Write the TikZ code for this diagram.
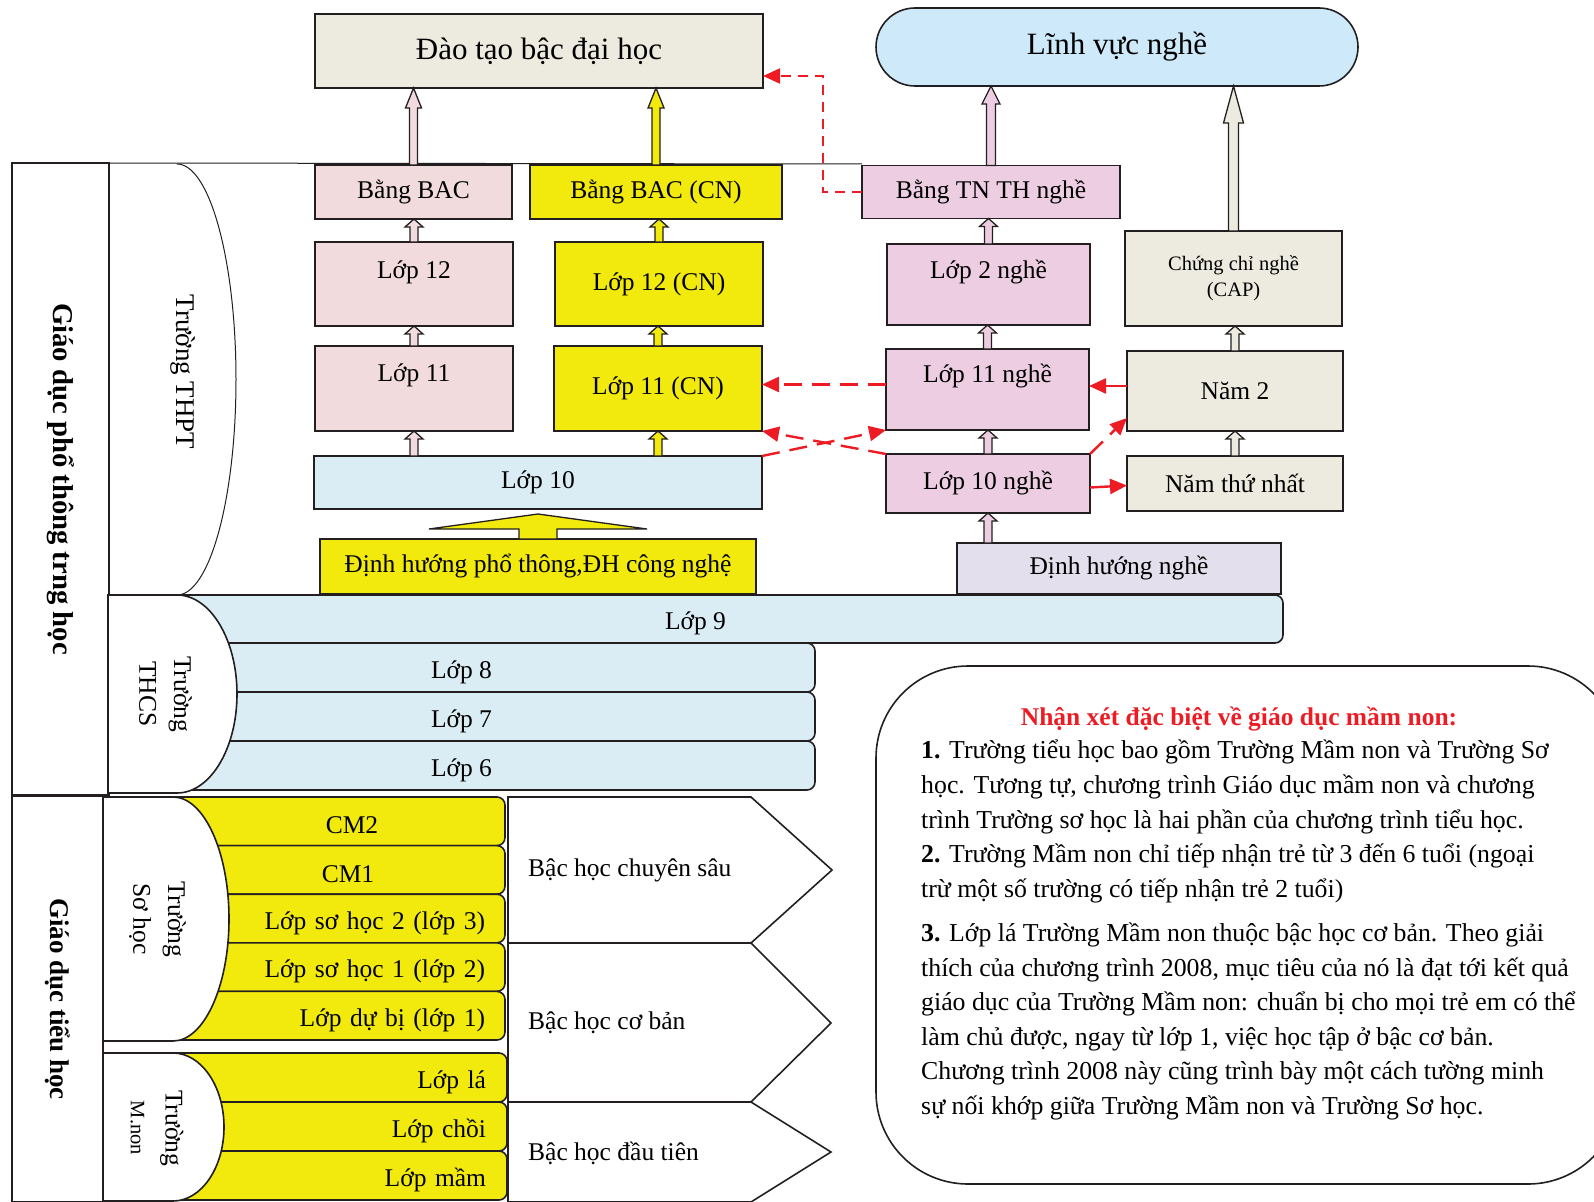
\documentclass[tikz,border=0pt]{standalone}
\usepackage{fontspec}
\setmainfont{Liberation Serif}
\usetikzlibrary{positioning,calc,arrows.meta,shapes.misc}

\definecolor{inkc}{RGB}{35,31,32}
\definecolor{beigec}{RGB}{237,234,224}
\definecolor{skyc}{RGB}{206,234,250}
\definecolor{rosec}{RGB}{242,219,221}
\definecolor{yellowc}{RGB}{242,234,13}
\definecolor{lilacc}{RGB}{236,205,225}
\definecolor{icec}{RGB}{219,237,244}
\definecolor{lavc}{RGB}{228,223,236}
\definecolor{redc}{RGB}{237,28,36}

\newcommand{\fsbig}{\fontsize{31}{36}\selectfont}
\newcommand{\fssmall}{\fontsize{20.5}{26}\selectfont}
\newcommand{\fsbold}{\fontsize{27}{32}\selectfont\bfseries}

% block arrow pointing up: fill, from, to, half shaft, half head, head length
\newcommand{\blockup}[6]{%
  \draw[blk, fill=#1] let \p1=#2, \p2=#3 in
    (\x1-#4,\y1) -- (\x1-#4,\y2-#6) -- (\x1-#5,\y2-#6) -- (\x1,\y2)
    -- (\x1+#5,\y2-#6) -- (\x1+#4,\y2-#6) -- (\x1+#4,\y1) -- cycle;}
\newcommand{\smallup}[3]{\blockup{#1}{#2}{#3}{4pt}{9pt}{8pt}}

\begin{document}
\fontsize{25.5}{34.6}\selectfont
\begin{tikzpicture}[x=1pt, y=-1pt,
  box/.style={draw=inkc, line width=1.6pt, inner sep=0pt, outer sep=0pt, align=center},
  frame/.style={draw=inkc, line width=1.6pt},
  hair/.style={draw=inkc, line width=1pt},
  blk/.style={draw=inkc, line width=1.3pt, line join=miter},
  icebar/.style={box, fill=icec, rounded corners=8pt, minimum height=49pt, text height=27pt, text depth=5.6pt},
  ybar/.style={box, fill=yellowc, rounded corners=8pt, text width=362pt, align=right, text height=27pt, text depth=5.6pt},
  vtext/.style={rotate=-90, align=center, inner sep=0pt},
  redtip/.style={-{Triangle[length=17pt,width=15pt]}},
  reddash/.style={draw=redc, line width=2.4pt, dash pattern=on 18pt off 10pt, redtip},
  redline/.style={draw=redc, line width=2.4pt, redtip}]

\useasboundingbox (0,0) rectangle (1594,1201);

% note on the right
\node[box, rounded corners=92pt, minimum width=744pt, minimum height=518pt] (note) at (1248,925) {};
\node[font=\bfseries, text=redc] (notetitle) at (1239,719) {Nhận xét đặc biệt về giáo dục mầm non:};
\node[align=left, anchor=north west, inner sep=0pt, font=\fontsize{25.8}{34.6}\selectfont] (notebody) at (921,740) {%
\textbf{1.} Trường tiểu học bao gồm Trường Mầm non và Trường Sơ\\
học. Tương tự, chương trình Giáo dục mầm non và chương\\
trình Trường sơ học là hai phần của chương trình tiểu học.\\
\textbf{2.} Trường Mầm non chỉ tiếp nhận trẻ từ 3 đến 6 tuổi (ngoại\\
trừ một số trường có tiếp nhận trẻ 2 tuổi)\\[9.5pt]
\textbf{3.} Lớp lá Trường Mầm non thuộc bậc học cơ bản. Theo giải\\
thích của chương trình 2008, mục tiêu của nó là đạt tới kết quả\\
giáo dục của Trường Mầm non: chuẩn bị cho mọi trẻ em có thể\\
làm chủ được, ngay từ lớp 1, việc học tập ở bậc cơ bản.\\
Chương trình 2008 này cũng trình bày một cách tường minh\\
sự nối khớp giữa Trường Mầm non và Trường Sơ học.};

% left columns
\node[box, minimum width=97pt, minimum height=632pt] (gdpt) at (60.5,479) {};
\node[vtext, font=\fontsize{28.7}{32}\selectfont\bfseries] (gdpttext) at (gdpt.center) {Giáo dục phổ thông trng học};
\node[box, minimum width=91pt, minimum height=406pt] (gdth) at (57.5,999) {};
\node[vtext, font=\fsbold] (gdthtext) at (gdth.center) {Giáo dục tiểu học};

% THCS bars
\node[icebar, minimum width=1175pt, minimum height=48pt, anchor=north west] (lop9) at (108,595) {Lớp 9};
\node[icebar, minimum width=707pt, below=0pt of lop9.south west, anchor=north west] (lop8) {Lớp 8};
\node[icebar, minimum width=707pt, below=0pt of lop8.south west, anchor=north west] (lop7) {Lớp 7};
\node[icebar, minimum width=707pt, below=0pt of lop7.south west, anchor=north west] (lop6) {Lớp 6};

% primary bars
\node[ybar, minimum width=402pt, minimum height=48.6pt, anchor=north west,
  label={[xshift=48pt, yshift=-4pt]center:CM2}] (cm2) at (103,797) {};
\node[ybar, minimum width=402pt, minimum height=48.6pt, below=0pt of cm2.south west, anchor=north west,
  label={[xshift=44pt, yshift=-4pt]center:CM1}] (cm1) {};
\node[ybar, minimum width=402pt, minimum height=48.6pt, below=0pt of cm1.south west, anchor=north west] (sh2) {Lớp sơ học 2 (lớp 3)};
\node[ybar, minimum width=402pt, minimum height=48.6pt, below=0pt of sh2.south west, anchor=north west] (sh1) {Lớp sơ học 1 (lớp 2)};
\node[ybar, minimum width=402pt, minimum height=48.6pt, below=0pt of sh1.south west, anchor=north west] (dubi) {Lớp dự bị (lớp 1)};
\node[ybar, minimum width=404pt, minimum height=49pt, anchor=north west] (la) at (103,1053) {Lớp lá};
\node[ybar, minimum width=404pt, minimum height=49pt, below=0pt of la.south west, anchor=north west] (choi) {Lớp chồi};
\node[ybar, minimum width=404pt, minimum height=49pt, below=0pt of choi.south west, anchor=north west] (mam) {Lớp mầm};

% school columns
\draw[hair] (gdpt.north east) -- (862,164);
\draw[hair] (177,164) arc[start angle=90, end angle=-90, x radius=59pt, y radius=215.5pt];
\draw[frame, fill=white] (108,595) -- (177,595) arc[start angle=90, end angle=-90, x radius=60pt, y radius=99pt] -- (108,793) -- cycle;
\draw[frame, fill=white] (103,797) -- (173,797) arc[start angle=90, end angle=-90, x radius=56pt, y radius=122pt] -- (103,1041) -- cycle;
\draw[frame, fill=white] (103,1053) -- (173,1053) arc[start angle=90, end angle=-90, x radius=51pt, y radius=74pt] -- (103,1201) -- cycle;
\node[vtext] (thpt) at (183,372) {\fontsize{27}{32}\selectfont Trường THPT};
\node[vtext] (thcs) at (165.5,694) {Trường\\THCS};
\node[vtext] (sohoc) at (157.5,919) {Trường\\Sơ học};
\node[vtext] (mnon) at (157,1128) {Trường\\{\fssmall M.non}};

% levels
\draw[frame, fill=white] (508,797) -- (751,797) -- (832,870) -- (751,943) -- (508,943) -- cycle;
\draw[frame, fill=white] (508,943) -- (751,943) -- (831,1023) -- (751,1102) -- (508,1102) -- cycle;
\draw[frame, fill=white] (508,1102) -- (751,1102) -- (831,1152) -- (751,1202) -- (508,1202) -- cycle;
\node[anchor=west, inner sep=0pt] (bacsau) at (528,870) {Bậc học chuyên sâu};
\node[anchor=west, inner sep=0pt] (bacco) at (528,1023) {Bậc học cơ bản};
\node[anchor=west, inner sep=0pt] (bacdau) at (528,1153) {Bậc học đầu tiên};

% top
\node[box, fill=beigec, minimum width=448pt, minimum height=74pt, font=\fsbig] (daotao) at (539,51) {Đào tạo bậc đại học};
\node[box, rounded rectangle, fill=skyc, minimum width=482pt, minimum height=78pt, font=\fsbig] (linh) at (1117,47) {Lĩnh vực nghề};

% upper secondary
\node[box, fill=rosec, minimum width=197pt, minimum height=54pt] (bangbac) at (413.5,192) {Bằng BAC};
\node[box, fill=yellowc, minimum width=252pt, minimum height=54pt] (bangbaccn) at (656,192) {Bằng BAC (CN)};
\node[box, fill=lilacc, minimum width=258pt, minimum height=53pt] (bangtn) at (991,192) {Bằng TN TH nghề};
\node[box, fill=rosec, minimum width=198pt, text height=36pt, text depth=48pt] (lop12) at (414,284) {Lớp 12};
\node[box, fill=yellowc, minimum width=208pt, minimum height=84pt] (lop12cn) at (659,284) {Lớp 12 (CN)};
\node[box, fill=lilacc, minimum width=203pt, text height=34pt, text depth=47pt] (lop2n) at (988.5,284.5) {Lớp 2 nghề};
\node[box, fill=beigec, minimum width=217pt, minimum height=95pt, font=\fssmall] (cap) at (1233.5,278.5) {Chứng chỉ nghề\\(CAP)};
\node[box, fill=rosec, minimum width=198pt, text height=35.5pt, text depth=49.5pt] (lop11) at (414,388.5) {Lớp 11};
\node[box, fill=yellowc, minimum width=208pt, minimum height=85pt] (lop11cn) at (658,388.5) {Lớp 11 (CN)};
\node[box, fill=lilacc, minimum width=203pt, text height=33.5pt, text depth=47.5pt] (lop11n) at (987.5,389.5) {Lớp 11 nghề};
\node[box, fill=beigec, minimum width=216pt, minimum height=80pt] (nam2) at (1235,391) {Năm 2};
\node[box, fill=icec, minimum width=448pt, minimum height=53pt] (lop10) at (538,482.5) {Lớp 10};
\node[box, fill=lilacc, minimum width=204pt, minimum height=59pt] (lop10n) at (988,483.5) {Lớp 10 nghề};
\node[box, fill=beigec, minimum width=216pt, minimum height=55pt] (nam1) at (1235,483.5) {Năm thứ nhất};
\node[box, fill=yellowc, minimum width=436pt, minimum height=55pt] (dhpt) at (538,566.5) {Định hướng phổ thông,ĐH công nghệ};
\node[box, fill=lavc, minimum width=324pt, minimum height=51pt] (dhnghe) at (1119,568.5) {Định hướng nghề};

% block arrows
\blockup{rosec}{(bangbac.north)}{(daotao.south)}{4pt}{8pt}{20pt}
\blockup{yellowc}{(bangbaccn.north)}{(daotao.south)}{4pt}{8pt}{20pt}
\blockup{lilacc}{(bangtn.north)}{(linh.south)}{4.5pt}{9pt}{18pt}
\blockup{beigec}{(cap.north)}{(linh.south)}{5pt}{10pt}{37pt}
\smallup{rosec}{(lop12.north)}{(bangbac.south)}
\smallup{rosec}{(lop11.north)}{(lop12.south)}
\smallup{rosec}{(lop10.north -| lop11.south)}{(lop11.south)}
\smallup{yellowc}{(lop12cn.north)}{(bangbaccn.south)}
\smallup{yellowc}{(lop11cn.north)}{(lop12cn.south)}
\smallup{yellowc}{(lop10.north -| lop11cn.south)}{(lop11cn.south)}
\smallup{lilacc}{(lop2n.north)}{(bangtn.south)}
\smallup{lilacc}{(lop11n.north)}{(lop2n.south)}
\smallup{lilacc}{(lop10n.north)}{(lop11n.south)}
\smallup{lilacc}{(dhnghe.north -| lop10n.south)}{(lop10n.south)}
\smallup{beigec}{(nam2.north)}{(cap.south)}
\smallup{beigec}{(nam1.north)}{(nam2.south)}
\blockup{yellowc}{(dhpt.north)}{($(lop10.south)+(0,5)$)}{19pt}{109pt}{15pt}

% red links
\draw[draw=redc, line width=2pt, dash pattern=on 10pt off 7pt, redtip]
  (bangtn.west) -- ++(-39,0) |- ($(daotao.south east)+(0,-12)$);
\draw[reddash] ($(lop11n.west)+(0,-5)$) -- ($(lop11n.west -| lop11cn.east)+(0,-5)$);
\draw[reddash] (lop10.north east) -- (lop11n.south west);
\draw[reddash] (lop10n.north west) -- (lop11cn.south east);
\draw[redline] ($(nam2.west)+(0,-5)$) -- ($(nam2.west -| lop11n.east)+(0,-5)$);
\draw[reddash] (lop10n.north east) -- ($(nam2.south west)+(0,-13)$);
\draw[redline] ($(lop10n.east)+(0,4)$) -- ($(nam1.west)+(0,2)$);
\end{tikzpicture}
\end{document}
